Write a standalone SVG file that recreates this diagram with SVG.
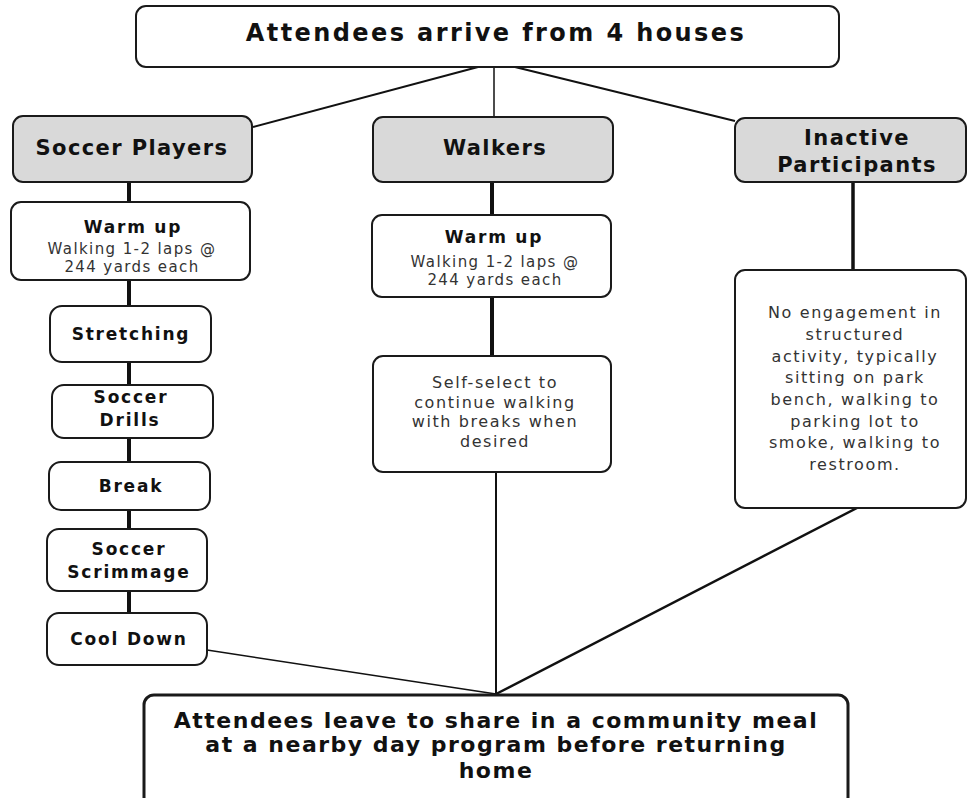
<svg xmlns="http://www.w3.org/2000/svg" width="967" height="798" viewBox="0 0 967 798">
<style>
.box{fill:#fff;stroke:#1a1a1a;stroke-width:2}
.hdr{fill:#d9d9d9;stroke:#1a1a1a;stroke-width:2}
.big{stroke-width:3}
.t{font-family:"DejaVu Sans",sans-serif;text-anchor:middle}
.title{font-size:24px;font-weight:bold;letter-spacing:2.4px;fill:#111}
.h{font-size:21px;font-weight:bold;letter-spacing:1.4px;fill:#111}
.b{font-size:17px;font-weight:bold;letter-spacing:1.8px;fill:#111}
.r{font-size:15px;letter-spacing:1.4px;fill:#333}
.r16{font-size:16px;letter-spacing:1.6px;fill:#333}
.end{font-size:22px;font-weight:bold;letter-spacing:1.5px;fill:#111}
.c{stroke:#111;fill:none}
</style>
<rect width="967" height="798" fill="#fff"/>
<g id="connectors">
<line class="c" x1="478" y1="67" x2="253" y2="127" stroke-width="2"/>
<line class="c" x1="494" y1="67" x2="494" y2="117" stroke-width="1.5"/>
<line class="c" x1="515" y1="67" x2="735" y2="121" stroke-width="2"/>
<line class="c" x1="129" y1="182" x2="129" y2="613" stroke-width="4"/>
<line class="c" x1="492" y1="182" x2="492" y2="356" stroke-width="4"/>
<line class="c" x1="853" y1="182" x2="853" y2="270" stroke-width="3.5"/>
<line class="c" x1="207" y1="650" x2="496" y2="694" stroke-width="1.5"/>
<line class="c" x1="496" y1="472" x2="496" y2="694" stroke-width="2"/>
<line class="c" x1="857" y1="508" x2="496" y2="694" stroke-width="2.5"/>
</g>
<g id="start">
<rect class="box" x="136" y="6" width="703" height="61" rx="10"/>
<text class="t title" x="496" y="41">Attendees arrive from 4 houses</text>
</g>
<g id="soccer-players">
<rect class="hdr" x="13" y="116" width="239" height="66" rx="10"/>
<text class="t h" x="132" y="155">Soccer Players</text>
</g>
<g id="walkers">
<rect class="hdr" x="373" y="117" width="240" height="65" rx="10"/>
<text class="t h" x="495" y="155">Walkers</text>
</g>
<g id="inactive">
<rect class="hdr" x="735" y="118" width="231" height="64" rx="10"/>
<text class="t h" x="857" y="145">Inactive</text>
<text class="t h" x="857" y="172">Participants</text>
</g>
<g id="soccer-warmup">
<rect class="box" x="11" y="202" width="239" height="78" rx="10"/>
<text class="t b" x="133" y="233">Warm up</text>
<text class="t r" x="132" y="254">Walking 1-2 laps @</text>
<text class="t r" x="132" y="272">244 yards each</text>
</g>
<g id="stretching">
<rect class="box" x="50" y="306" width="161" height="56" rx="12"/>
<text class="t b" x="131" y="340">Stretching</text>
</g>
<g id="drills">
<rect class="box" x="52" y="385" width="161" height="53" rx="12"/>
<text class="t b" x="131" y="403">Soccer</text>
<text class="t b" x="130" y="426">Drills</text>
</g>
<g id="break">
<rect class="box" x="49" y="462" width="161" height="48" rx="12"/>
<text class="t b" x="131" y="492">Break</text>
</g>
<g id="scrimmage">
<rect class="box" x="47" y="529" width="160" height="62" rx="12"/>
<text class="t b" x="129" y="555">Soccer</text>
<text class="t b" x="129" y="578">Scrimmage</text>
</g>
<g id="cooldown">
<rect class="box" x="47" y="613" width="160" height="52" rx="12"/>
<text class="t b" x="129" y="645">Cool Down</text>
</g>
<g id="walkers-warmup">
<rect class="box" x="372" y="215" width="239" height="82" rx="10"/>
<text class="t b" x="494" y="243">Warm up</text>
<text class="t r" x="495" y="267">Walking 1-2 laps @</text>
<text class="t r" x="495" y="285">244 yards each</text>
</g>
<g id="self-select">
<rect class="box" x="373" y="356" width="238" height="116" rx="10"/>
<text class="t r16" x="495" y="388">Self-select to</text>
<text class="t r16" x="495" y="408">continue walking</text>
<text class="t r16" x="495" y="427">with breaks when</text>
<text class="t r16" x="495" y="447">desired</text>
</g>
<g id="no-engagement">
<rect class="box" x="735" y="270" width="231" height="238" rx="10"/>
<text class="t r16" x="855" y="318">No engagement in</text>
<text class="t r16" x="855" y="340">structured</text>
<text class="t r16" x="855" y="362">activity, typically</text>
<text class="t r16" x="855" y="383">sitting on park</text>
<text class="t r16" x="855" y="405">bench, walking to</text>
<text class="t r16" x="855" y="427">parking lot to</text>
<text class="t r16" x="855" y="448">smoke, walking to</text>
<text class="t r16" x="855" y="470">restroom.</text>
</g>
<g id="end">
<rect class="box big" x="144" y="695" width="704" height="112" rx="10"/>
<text class="t end" x="496" y="728">Attendees leave to share in a community meal</text>
<text class="t end" x="496" y="752">at a nearby day program before returning</text>
<text class="t end" x="496" y="778">home</text>
</g>
</svg>
